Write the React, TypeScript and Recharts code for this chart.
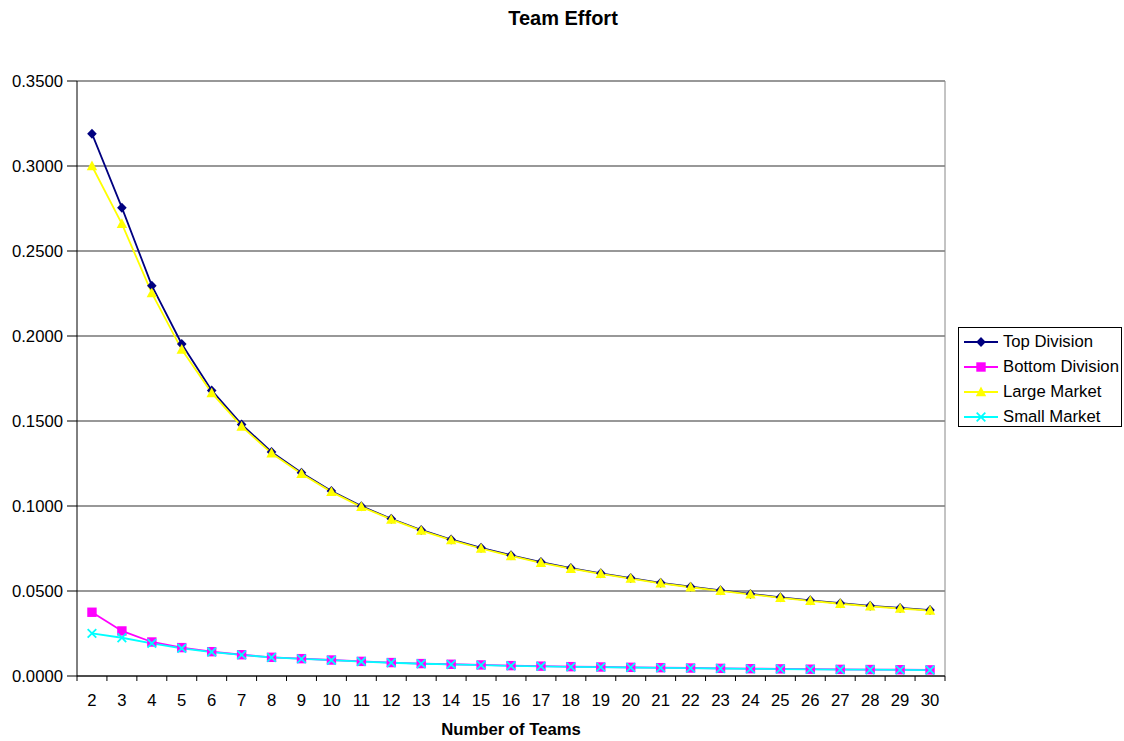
import React from 'react';
import { LineChart, Line, XAxis, YAxis, CartesianGrid, ReferenceLine } from 'recharts';

const teams = [2, 3, 4, 5, 6, 7, 8, 9, 10, 11, 12, 13, 14, 15, 16, 17, 18, 19, 20, 21, 22, 23, 24, 25, 26, 27, 28, 29, 30];

const topDivision = [
  0.3190, 0.2755, 0.2296, 0.1953, 0.1680, 0.1480, 0.1318, 0.1195, 0.1088, 0.0999,
  0.0925, 0.0859, 0.0803, 0.0754, 0.0710, 0.0670, 0.0635, 0.0604, 0.0576, 0.0548,
  0.0525, 0.0504, 0.0483, 0.0463, 0.0445, 0.0428, 0.0413, 0.0400, 0.0388,
];
const bottomDivision = [
  0.0375, 0.0265, 0.0200, 0.0167, 0.0143, 0.0125, 0.0110, 0.0102, 0.0094, 0.0086,
  0.0079, 0.0073, 0.0069, 0.0065, 0.0061, 0.0058, 0.0055, 0.0053, 0.0051, 0.0049,
  0.0047, 0.0045, 0.0043, 0.0042, 0.0040, 0.0039, 0.0038, 0.0037, 0.0036,
];
const largeMarket = [
  0.3000, 0.2660, 0.2252, 0.1920, 0.1665, 0.1468, 0.1310, 0.1190, 0.1083, 0.0995,
  0.0921, 0.0855, 0.0799, 0.0750, 0.0706, 0.0666, 0.0631, 0.0601, 0.0573, 0.0545,
  0.0522, 0.0501, 0.0480, 0.0460, 0.0442, 0.0425, 0.0410, 0.0397, 0.0385,
];
const smallMarket = [
  0.0251, 0.0225, 0.0192, 0.0163, 0.0141, 0.0124, 0.0109, 0.0101, 0.0093, 0.0085,
  0.0078, 0.0072, 0.0068, 0.0064, 0.0060, 0.0057, 0.0054, 0.0052, 0.0050, 0.0048,
  0.0046, 0.0044, 0.0042, 0.0041, 0.0039, 0.0038, 0.0037, 0.0036, 0.0035,
];

const yTicks = [0, 0.05, 0.1, 0.15, 0.2, 0.25, 0.3, 0.35];

const data = teams.map((n, i) => ({
  n,
  top: topDivision[i],
  bottom: bottomDivision[i],
  large: largeMarket[i],
  small: smallMarket[i],
}));

// chart geometry
const W = 1124;
const H = 741;
const PLOT = { left: 77, top: 81, right: 945, bottom: 676 };
const Y_AXIS_W = 60;
const X_AXIS_H = 40;
const STEP = (PLOT.right - PLOT.left) / teams.length;
const FONT = 'Arial, "Liberation Sans", sans-serif';

type MarkerKind = 'diamond' | 'square' | 'triangle' | 'cross';

function Marker({ kind, cx, cy, color }: { kind: MarkerKind; cx: number; cy: number; color: string }) {
  if (kind === 'diamond') {
    return <polygon points={`${cx},${cy - 5} ${cx + 4.8},${cy} ${cx},${cy + 5} ${cx - 4.8},${cy}`} fill={color} />;
  }
  if (kind === 'square') {
    return <rect x={cx - 4.7} y={cy - 4.7} width={9.4} height={9.4} fill={color} />;
  }
  if (kind === 'triangle') {
    return <polygon points={`${cx},${cy - 5.5} ${cx + 5.2},${cy + 4.2} ${cx - 5.2},${cy + 4.2}`} fill={color} />;
  }
  return (
    <g stroke={color} strokeWidth={1.8}>
      <line x1={cx - 4.3} y1={cy - 4.3} x2={cx + 4.3} y2={cy + 4.3} />
      <line x1={cx - 4.3} y1={cy + 4.3} x2={cx + 4.3} y2={cy - 4.3} />
    </g>
  );
}

const series = [
  { key: 'top', name: 'Top Division', color: '#000080', marker: 'diamond' as MarkerKind },
  { key: 'bottom', name: 'Bottom Division', color: '#FF00FF', marker: 'square' as MarkerKind },
  { key: 'large', name: 'Large Market', color: '#FFFF00', marker: 'triangle' as MarkerKind },
  { key: 'small', name: 'Small Market', color: '#00FFFF', marker: 'cross' as MarkerKind },
];

// category labels sit mid-band, tick marks fall on the band edges
function XTick(props: any) {
  const { x, payload, index } = props;
  const y0 = PLOT.bottom;
  return (
    <g>
      <line x1={x - STEP / 2} y1={y0} x2={x - STEP / 2} y2={y0 + 5} stroke="#000" />
      {index === teams.length - 1 && (
        <line x1={x + STEP / 2} y1={y0} x2={x + STEP / 2} y2={y0 + 5} stroke="#000" />
      )}
      <text x={x} y={y0 + 30} textAnchor="middle" fontSize={16.7} fontFamily={FONT} fill="#000">
        {payload.value}
      </text>
    </g>
  );
}

export default function App() {
  return (
    <div style={{ position: 'absolute', left: 0, top: 0, width: W, height: H, background: '#fff', fontFamily: FONT }}>
      <div style={{ position: 'absolute', left: 0, width: W + 2, top: 7, textAlign: 'center', fontWeight: 'bold', fontSize: 20 }}>
        Team Effort
      </div>
      <LineChart
        width={W}
        height={H}
        data={data}
        margin={{
          top: PLOT.top,
          left: PLOT.left - Y_AXIS_W,
          right: W - PLOT.right,
          bottom: H - PLOT.bottom - X_AXIS_H,
        }}
      >
        <CartesianGrid vertical={false} stroke="#333" strokeWidth={1.2} />
        <ReferenceLine x={30.5} stroke="#888" />
        <XAxis
          dataKey="n"
          type="number"
          domain={[1.5, 30.5]}
          ticks={teams}
          interval={0}
          height={X_AXIS_H}
          axisLine={{ stroke: '#000' }}
          tickLine={false}
          tick={<XTick />}
        />
        <YAxis
          type="number"
          domain={[0, 0.35]}
          ticks={yTicks}
          width={Y_AXIS_W}
          tickFormatter={(v: number) => v.toFixed(4)}
          tickSize={10}
          tickMargin={4}
          axisLine={{ stroke: '#000' }}
          tickLine={{ stroke: '#000' }}
          tick={{ fill: '#000', fontSize: 16.7, fontFamily: FONT }}
        />
        {series.map((s) => (
          <Line
            key={s.key}
            dataKey={s.key}
            name={s.name}
            type="linear"
            stroke={s.color}
            strokeWidth={1.8}
            isAnimationActive={false}
            dot={(p: any) => <Marker key={`${s.key}-${p.index}`} kind={s.marker} cx={p.cx} cy={p.cy} color={s.color} />}
            activeDot={false}
          />
        ))}
      </LineChart>
      <div
        style={{
          position: 'absolute',
          left: 958,
          top: 327,
          width: 164,
          height: 100,
          boxSizing: 'border-box',
          border: '1px solid #000',
          background: '#fff',
          paddingTop: 2,
        }}
      >
        {series.map((s) => (
          <div key={s.key} style={{ display: 'flex', alignItems: 'center', height: 24.8, fontSize: 16.7 }}>
            <svg width={44} height={14} style={{ flex: 'none' }}>
              <line x1={5} y1={7} x2={39} y2={7} stroke={s.color} strokeWidth={1.8} />
              <Marker kind={s.marker} cx={22} cy={7} color={s.color} />
            </svg>
            <span>{s.name}</span>
          </div>
        ))}
      </div>
      <div style={{ position: 'absolute', left: PLOT.left, width: PLOT.right - PLOT.left, top: 720, textAlign: 'center', fontWeight: 'bold', fontSize: 16.7 }}>
        Number of Teams
      </div>
    </div>
  );
}
